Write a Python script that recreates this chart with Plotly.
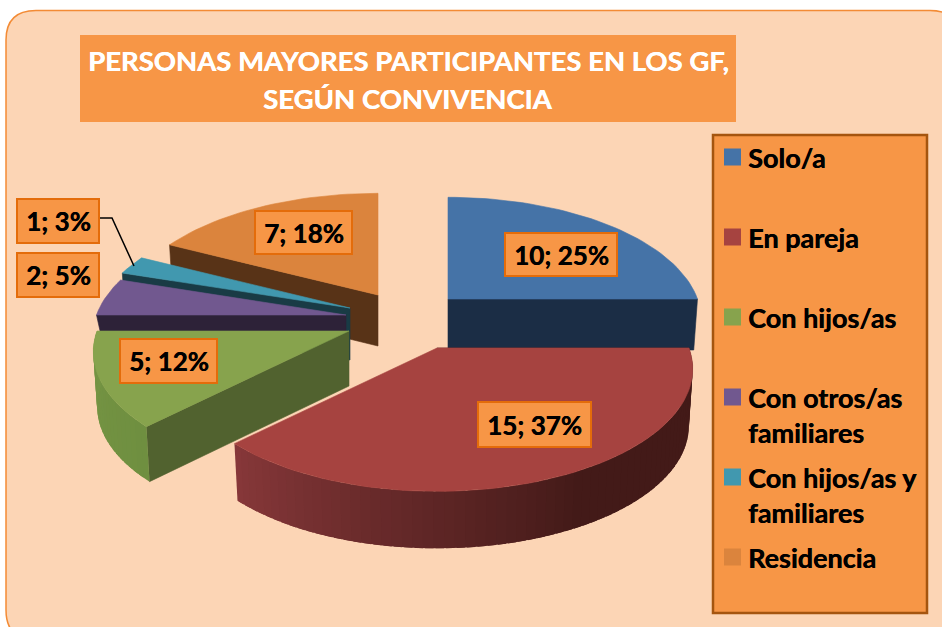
import math
import plotly.graph_objects as go

# ---- data ----
categories = ["Solo/a", "En pareja", "Con hijos/as", "Con otros/as familiares",
              "Con hijos/as y familiares", "Residencia"]
values = [10, 15, 5, 2, 1, 7]
percent_labels = [25, 37, 12, 5, 3, 18]
title_lines = ["PERSONAS MAYORES PARTICIPANTES EN LOS GF,", "SEGÚN CONVIVENCIA"]
legend_lines = [["Solo/a"], ["En pareja"], ["Con hijos/as"], ["Con otros/as", "familiares"],
                ["Con hijos/as y", "familiares"], ["Residencia"]]

# ---- style and layout ----
top_colors = ["#4573A7", "#A64340", "#87A34D", "#71588F", "#4198AF", "#DB843D"]
cut_colors = ["#1B2D45", "#431A18", "#51622F", "#2D2238", "#193B45", "#583317"]
rim_shade = ["#2A4566", "#88383A", "#6F8F40", "#45365A", "#255C6B", "#85502A"]
PANEL, BOX, BOX_EDGE, LEG_EDGE = "#FCD5B5", "#F79646", "#E46C0A", "#A5550F"
FONT = "Lato"

# exploded apex of every slice in page pixels
apex = [(448, 299), (437, 348), (349, 331), (346, 315), (350, 308), (378, 295)]
radius_scale = [0.99, 1.0, 1.0, 0.99, 1.0, 1.0]
cut_depth = [51, 57, 55, 17, 52, 51]
cut_at_end = [True, False, False, False, False, False]
R, RY, K = 252.0, 119.0, 0.17
BOTTOM_SHRINK = 0.985
draw_order = [5, 0, 4, 3, 2, 1]

label_boxes = [(505, 233, 617, 276), (478, 402, 591, 447), (120, 339, 217, 383),
               (17, 253, 99, 297), (17, 199, 99, 243), (255, 211, 352, 254)]
legend_y = [157, 237, 317, 397, 477, 557]


def project(i, theta, down=0.0):
    """Theta is degrees clockwise from 12 o'clock."""
    u, v = math.sin(math.radians(theta)), -math.cos(math.radians(theta))
    d = 1 - K * v
    s = BOTTOM_SHRINK if down else 1.0
    return apex[i][0] + s * radius_scale[i] * R * u / d, apex[i][1] + RY * v / d + down


def mix(a, b, t):
    ca = [int(a[j:j + 2], 16) for j in (1, 3, 5)]
    cb = [int(b[j:j + 2], 16) for j in (1, 3, 5)]
    return "rgb(%d,%d,%d)" % tuple(round(x + (y - x) * t) for x, y in zip(ca, cb))


def poly(fig, pts, color, edge=0.6):
    xs, ys = zip(*pts)
    fig.add_trace(go.Scatter(x=list(xs) + [xs[0]], y=list(ys) + [ys[0]], mode="lines",
                             fill="toself", fillcolor=color,
                             line=dict(color=color, width=edge),
                             hoverinfo="skip", showlegend=False))


fig = go.Figure()
total = sum(values)
starts, acc = [], 0.0
for v in values:
    starts.append(acc)
    acc += 360.0 * v / total

for i in draw_order:
    a0, a1 = starts[i], starts[i] + 360.0 * values[i] / total
    d = cut_depth[i]
    ax, ay = apex[i]
    # visible cut face
    cut_angle = a1 if cut_at_end[i] else a0
    poly(fig, [(ax, ay), project(i, cut_angle), project(i, cut_angle, d), (ax, ay + d)], cut_colors[i])
    # visible part of the round rim, painted in thin overlapping strips
    lo, hi = max(a0, 90.0), min(a1, 270.0)
    if hi > lo:
        n = max(2, int((hi - lo) / 2))
        step = (hi - lo) / n
        for s in range(n):
            t0 = lo + step * s
            t1 = min(hi, t0 + step * 1.8)
            if i == 1:
                col = mix("#431A18", rim_shade[1], min(1.0, max(0.0, (t0 - 150) / 75.0)))
            elif i == 2:
                col = mix(rim_shade[i], top_colors[i], 0.3 * (t0 - lo) / (hi - lo))
            else:
                col = rim_shade[i]
            poly(fig, [project(i, t0), project(i, t1), project(i, t1, d), project(i, t0, d)], col, edge=0)
    # top surface
    n = max(3, int((a1 - a0) / 2))
    arc = [project(i, a0 + (a1 - a0) * s / n) for s in range(n + 1)]
    poly(fig, [(ax, ay)] + arc, top_colors[i])

# leader line for the smallest slice
fig.add_trace(go.Scatter(x=[100, 112, 134], y=[218, 218, 266], mode="lines",
                         line=dict(color="#000000", width=1.5), hoverinfo="skip", showlegend=False))
# legend keys
for c, col, y in zip(categories, top_colors, legend_y):
    fig.add_trace(go.Scatter(x=[732.5], y=[y], mode="markers", name=c,
                             marker=dict(symbol="square", size=17, color=col, line=dict(width=0)),
                             hoverinfo="skip", showlegend=False))

shapes = [
    dict(type="path", layer="below",
         path="M 6 40 Q 6 10.5 36 10.5 L 930 10.5 Q 960 10.5 960 40 L 960 610 Q 960 640 930 640 "
              "L 36 640 Q 6 640 6 610 Z",
         fillcolor=PANEL, line=dict(color="#F38B35", width=1.5)),
    dict(type="rect", layer="below", x0=80, x1=736, y0=35, y1=122, fillcolor=BOX, line=dict(width=0)),
    dict(type="rect", layer="below", x0=713, x1=927, y0=135, y1=613, fillcolor=BOX,
         line=dict(color=LEG_EDGE, width=2.5)),
]
annotations = []


def text(x, y, s, size, color="#000000", anchor="left"):
    annotations.append(dict(x=x, y=y, text="<b>%s</b>" % s, showarrow=False, xanchor=anchor, yanchor="middle",
                            font=dict(family=FONT, size=size, color=color, shadow="0.4px 0 0 " + color),
                            xref="x", yref="y"))


for (x0, y0, x1, y1), v, pc in zip(label_boxes, values, percent_labels):
    shapes.append(dict(type="rect", layer="above", x0=x0, x1=x1, y0=y0, y1=y1, fillcolor=BOX,
                       line=dict(color=BOX_EDGE, width=2)))
    text((x0 + x1) / 2, (y0 + y1) / 2, "%d; %d%%" % (v, pc), 26, anchor="center")

text(408, 60, title_lines[0], 27.5, "#FFFFFF", "center")
text(408, 98, title_lines[1], 27.5, "#FFFFFF", "center")
for lines, y in zip(legend_lines, legend_y):
    for k, line in enumerate(lines):
        text(745.5, y + k * 35, line, 27)

fig.update_layout(
    width=942, height=627, margin=dict(l=0, r=0, t=0, b=0),
    paper_bgcolor="#FFFFFF", plot_bgcolor="rgba(0,0,0,0)", showlegend=False,
    xaxis=dict(range=[0, 942], visible=False, fixedrange=True),
    yaxis=dict(range=[627, 0], visible=False, fixedrange=True),
    shapes=shapes, annotations=annotations,
)
fig.write_html("out.html", config=dict(displayModeBar=False),
               post_script="document.body.style.margin='0';document.body.style.overflow='hidden';")
